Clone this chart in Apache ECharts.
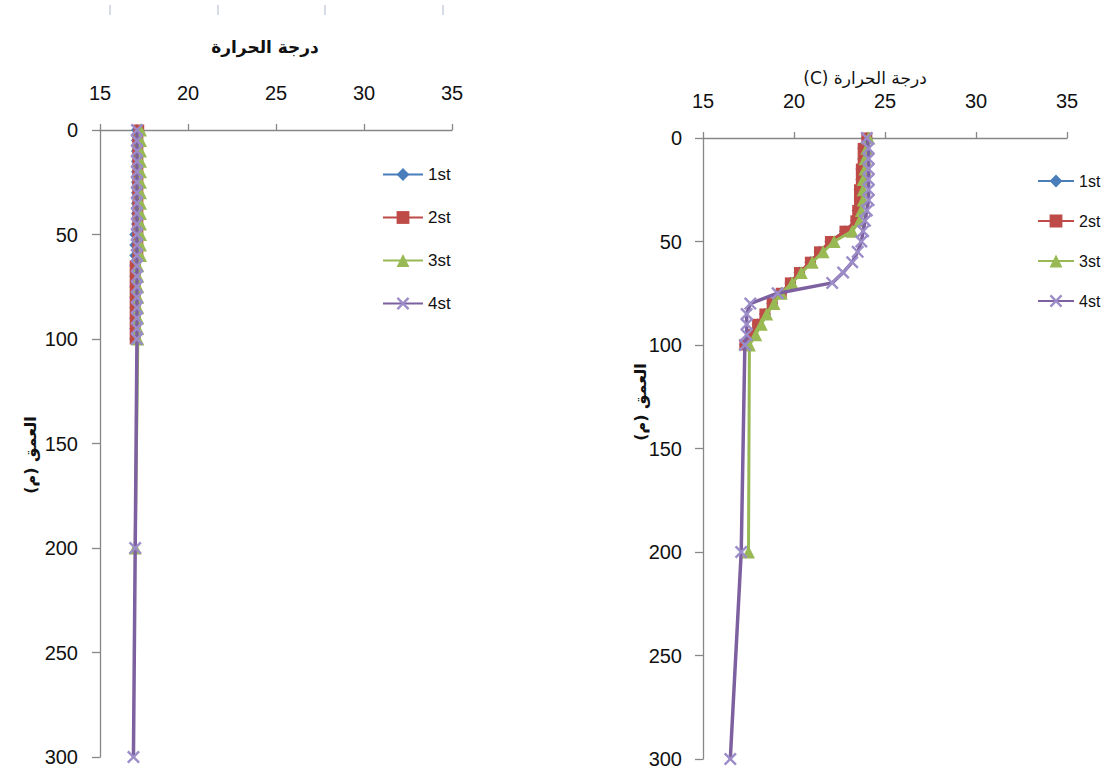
<!DOCTYPE html>
<html>
<head>
<meta charset="utf-8">
<script src="https://cdn.jsdelivr.net/npm/echarts@6/dist/echarts.min.js"></script>
<style>html,body{margin:0;padding:0;background:#fff}#c{width:1107px;height:774px}</style>
</head>
<body>
<div id="c"></div>
<script>
// ---------- DATA ----------
const seriesNames = ['1st', '2st', '3st', '4st'];
const xTicks = [15, 20, 25, 30, 35];
const yTicks = [0, 50, 100, 150, 200, 250, 300];

const depthTo100 = [0, 5, 10, 15, 20, 25, 30, 35, 40, 45, 50, 55, 60, 65, 70, 75, 80, 85, 90, 95, 100];
const depthTo200 = [0, 5, 10, 15, 20, 25, 30, 35, 40, 45, 50, 55, 60, 65, 70, 75, 80, 85, 90, 95, 100, 200];
const depthTo300 = [0, 5, 10, 15, 20, 25, 30, 35, 40, 45, 50, 55, 60, 65, 70, 75, 80, 85, 90, 95, 100, 200, 300];

// left panel temperatures
const left1st = [17.1, 17.1, 17.1, 17.1, 17.1, 17.1, 17.1, 17.1, 17.1, 17.1, 17.0, 17.0, 17.0, 17.0, 17.0, 17.0, 17.0, 17.0, 17.0, 17.0, 17.0];
const left2st = [17.2, 17.15, 17.15, 17.15, 17.15, 17.15, 17.15, 17.15, 17.15, 17.15, 17.15, 17.15, 17.15, 17.0, 17.0, 17.0, 17.0, 17.0, 17.0, 17.0, 17.0];
const left3st = [17.3, 17.3, 17.3, 17.3, 17.3, 17.3, 17.3, 17.3, 17.3, 17.3, 17.3, 17.3, 17.3, 17.15, 17.15, 17.15, 17.15, 17.15, 17.15, 17.15, 17.15, 17.0];
const left4st = [17.1, 17.1, 17.1, 17.1, 17.1, 17.1, 17.1, 17.1, 17.1, 17.1, 17.1, 17.1, 17.1, 17.1, 17.1, 17.1, 17.1, 17.1, 17.1, 17.1, 17.1, 17.0, 16.9];

// right panel temperatures
const right1st = [24.0, 23.8, 23.8, 23.7, 23.7, 23.6, 23.6, 23.5, 23.4, 22.8, 22.0, 21.4, 20.9, 20.3, 19.8, 19.3, 18.8, 18.4, 18.0, 17.7, 17.3];
const right2st = [24.0, 23.8, 23.8, 23.7, 23.7, 23.6, 23.6, 23.5, 23.4, 22.8, 22.0, 21.4, 20.9, 20.3, 19.8, 19.3, 18.8, 18.4, 18.0, 17.7, 17.3];
const right3st = [24.1, 24.0, 23.9, 23.9, 23.8, 23.8, 23.8, 23.7, 23.6, 23.2, 22.2, 21.6, 21.0, 20.4, 19.9, 19.3, 18.9, 18.5, 18.2, 17.9, 17.55, 17.5];
const right4st = [24.0, 24.1, 24.1, 24.1, 24.1, 24.1, 24.1, 24.0, 23.9, 23.8, 23.7, 23.5, 23.2, 22.7, 22.1, 19.1, 17.6, 17.4, 17.4, 17.4, 17.3, 17.1, 16.5];

// ---------- STYLE ----------
const colors = ['#4A7EBB', '#BE4B48', '#98B954', '#7D60A0'];
const symbolColors = ['#4A7EBB', '#BE4B48', '#98B954', '#9C8CC8'];
const xMark = 'path://M0,1.3 L1.3,0 L10,8.7 L8.7,10 Z M8.7,0 L10,1.3 L1.3,10 L0,8.7 Z';
const symbols = ['diamond', 'rect', 'triangle', xMark];
const symbolSizes = [12, 11, 13, 13];
const lineWidths = [3, 3, 3, 3.5];
const axisColor = '#878787';
const font = 'Liberation Sans, Arial, sans-serif';
const arFont = 'DejaVu Sans, sans-serif';

function pairs(temps, depths) {
  return temps.map((t, i) => [t, depths[i]]);
}

function makeSeries(idx, temps, depths, axisIndex) {
  return {
    name: seriesNames[idx],
    type: 'line',
    xAxisIndex: axisIndex,
    yAxisIndex: axisIndex,
    data: pairs(temps, depths),
    symbol: symbols[idx],
    symbolSize: symbolSizes[idx],
    showAllSymbol: true,
    lineStyle: { color: colors[idx], width: lineWidths[idx] },
    itemStyle: { color: symbolColors[idx] },
    z: 2 + idx,
    animation: false
  };
}

function xAxis(gridIndex, margin) {
  return {
    gridIndex: gridIndex,
    type: 'value',
    position: 'top',
    min: xTicks[0], max: xTicks[xTicks.length - 1], interval: 5,
    axisLine: { show: true, onZero: false, lineStyle: { color: axisColor, width: 1.3 } },
    axisTick: { show: true, inside: false, length: 6, lineStyle: { color: axisColor, width: 1.3 } },
    axisLabel: { margin: margin, fontSize: 20, color: '#111', fontFamily: font },
    splitLine: { show: false }
  };
}

function yAxis(gridIndex, margin) {
  return {
    gridIndex: gridIndex,
    type: 'value',
    inverse: true,
    min: yTicks[0], max: yTicks[yTicks.length - 1], interval: 50,
    axisLine: { show: true, onZero: false, lineStyle: { color: axisColor, width: 1.3 } },
    axisTick: { show: true, inside: false, length: 8, lineStyle: { color: axisColor, width: 1.3 } },
    axisLabel: { margin: margin, fontSize: 20, color: '#111', fontFamily: font },
    splitLine: { show: false }
  };
}

const chart = echarts.init(document.getElementById('c'), null, { renderer: 'svg' });

const RLE = '\u202B', PDF = '\u202C';

const option = {
  backgroundColor: '#ffffff',
  animation: false,
  grid: [
    { left: 100, top: 130, width: 352, height: 627, containLabel: false },
    { left: 703, top: 138, width: 364, height: 621, containLabel: false }
  ],
  xAxis: [xAxis(0, 27), xAxis(1, 27)],
  yAxis: [yAxis(0, 22), yAxis(1, 21)],
  legend: [
    {
      data: seriesNames, left: 377, top: 161, orient: 'vertical',
      itemWidth: 40, itemHeight: 16, itemGap: 26,
      textStyle: { fontSize: 17, color: '#111', fontFamily: font }
    },
    {
      data: seriesNames, left: 1032, top: 168, orient: 'vertical',
      itemWidth: 36, itemHeight: 16, itemGap: 24,
      textStyle: { fontSize: 16, color: '#111', fontFamily: font }
    }
  ],
  series: [
    makeSeries(0, left1st, depthTo100, 0),
    makeSeries(1, left2st, depthTo100, 0),
    makeSeries(2, left3st, depthTo200, 0),
    makeSeries(3, left4st, depthTo300, 0),
    makeSeries(0, right1st, depthTo100, 1),
    makeSeries(1, right2st, depthTo100, 1),
    makeSeries(2, right3st, depthTo200, 1),
    makeSeries(3, right4st, depthTo300, 1)
  ],
  graphic: [
    { type: 'text', x: 265, y: 47, style: { text: 'درجة الحرارة', fontSize: 17, fontWeight: 'bold', fontFamily: arFont, fill: '#111', align: 'center', verticalAlign: 'middle' } },
    { type: 'text', x: 865, y: 78, style: { text: RLE + 'درجة الحرارة (C)' + PDF, fontSize: 17, fontFamily: arFont, fill: '#111', align: 'center', verticalAlign: 'middle' } },
    { type: 'text', x: 30, y: 455, rotation: Math.PI / 2, style: { text: RLE + 'العمق (م)' + PDF, fontSize: 16, fontWeight: 'bold', fontFamily: arFont, fill: '#111', align: 'center', verticalAlign: 'middle' } },
    { type: 'text', x: 640, y: 402, rotation: Math.PI / 2, style: { text: RLE + 'العمق (م)' + PDF, fontSize: 16, fontWeight: 'bold', fontFamily: arFont, fill: '#111', align: 'center', verticalAlign: 'middle' } },
    { type: 'line', shape: { x1: 110, y1: 5, x2: 110, y2: 15 }, style: { stroke: '#c9d0dd', lineWidth: 1.5 } },
    { type: 'line', shape: { x1: 218, y1: 5, x2: 218, y2: 15 }, style: { stroke: '#c9d0dd', lineWidth: 1.5 } },
    { type: 'line', shape: { x1: 325, y1: 5, x2: 325, y2: 15 }, style: { stroke: '#c9d0dd', lineWidth: 1.5 } },
    { type: 'line', shape: { x1: 443, y1: 5, x2: 443, y2: 15 }, style: { stroke: '#c9d0dd', lineWidth: 1.5 } }
  ]
};

chart.setOption(option);
</script>
</body>
</html>
